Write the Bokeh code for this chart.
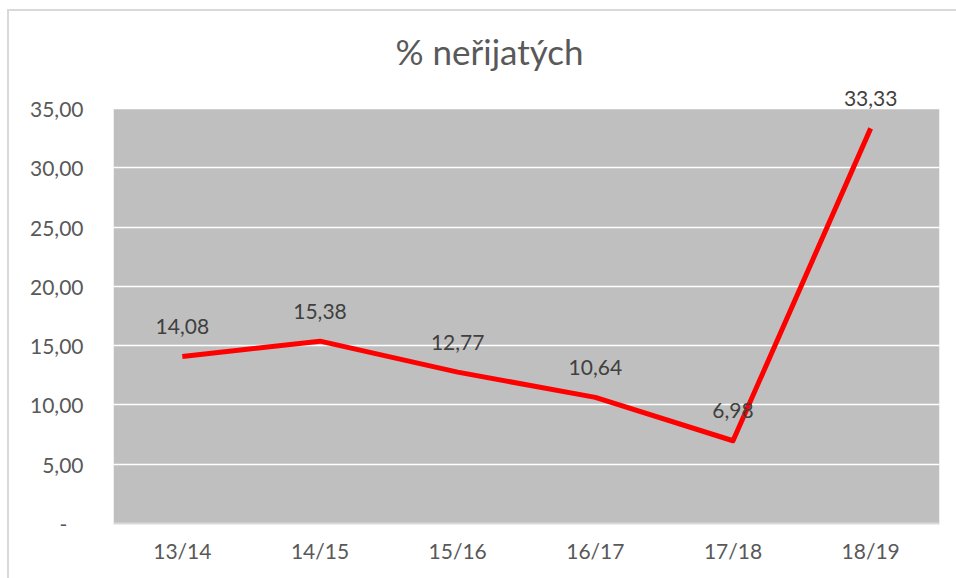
from bokeh.plotting import figure
from bokeh.models import FactorRange, Range1d, FixedTicker, ColumnDataSource, LabelSet, BoxAnnotation
from bokeh.layouts import column
from bokeh.embed import file_html
from bokeh.resources import INLINE
from bokeh.core.properties import value

categories = ["13/14", "14/15", "15/16", "16/17", "17/18", "18/19"]
values = [14.08, 15.38, 12.77, 10.64, 6.98, 33.33]
y_ticks = [0, 5, 10, 15, 20, 25, 30, 35]
y_tick_labels = ["-\u00a0\u00a0\u00a0", "5,00", "10,00", "15,00", "20,00", "25,00", "30,00", "35,00"]
title_text = "% neřijatých"

labels = [f"{v:.2f}".replace(".", ",") for v in values]
src = ColumnDataSource(dict(x=categories, y=values, t=labels))

FONT = "Lato"
Y_MAX = y_ticks[-1]

p = figure(width=947, height=567, x_range=FactorRange(*categories), y_range=Range1d(0, 37.2),
           output_backend="svg", toolbar_location=None,
           min_border_left=104, min_border_right=17, min_border_top=71, min_border_bottom=55)

p.title.text = title_text
p.title.align = "left"
p.title.offset = 282
p.title.text_font = FONT
p.title.text_font_size = "35px"
p.title.text_font_style = "normal"
p.title.text_color = "#595959"
p.title.standoff = 22

p.background_fill_color = "white"
p.border_fill_color = "white"
p.outline_line_color = None
p.add_layout(BoxAnnotation(bottom=0, top=Y_MAX, fill_color="#BFBFBF", fill_alpha=1,
                           line_color=None, level="image"))

p.xgrid.grid_line_color = None
p.ygrid.grid_line_color = "white"
p.ygrid.grid_line_width = 1.5

p.yaxis.ticker = FixedTicker(ticks=y_ticks)
p.yaxis.major_label_overrides = {t: l for t, l in zip(y_ticks, y_tick_labels)}
p.yaxis.axis_line_color = None
p.yaxis.major_tick_line_color = None
p.yaxis.minor_tick_line_color = None
p.yaxis.major_label_standoff = 24
p.yaxis.major_label_text_font = FONT
p.yaxis.major_label_text_font_size = "21px"
p.yaxis.major_label_text_color = "#595959"

p.xaxis.axis_line_color = "#D9D9D9"
p.xaxis.axis_line_width = 2
p.xaxis.major_tick_line_color = None
p.xaxis.minor_tick_line_color = None
p.xaxis.major_label_standoff = 8
p.xaxis.major_label_text_font = FONT
p.xaxis.major_label_text_font_size = "21px"
p.xaxis.major_label_text_color = "#595959"

p.line(x="x", y="y", source=src, line_color="#FF0000", line_width=5, line_join="round")
p.add_layout(LabelSet(x="x", y="y", text="t", source=src, text_align="center",
                      text_baseline="middle", y_offset=30, text_font=value(FONT),
                      text_font_size=value("21px"), text_color="#404040"))

layout = column(p, styles={"margin-left": "7px", "margin-top": "9px",
                           "border-left": "2px solid #D9D9D9",
                           "border-top": "2px solid #D9D9D9"})

open("out.html", "w").write(file_html(layout, INLINE))
